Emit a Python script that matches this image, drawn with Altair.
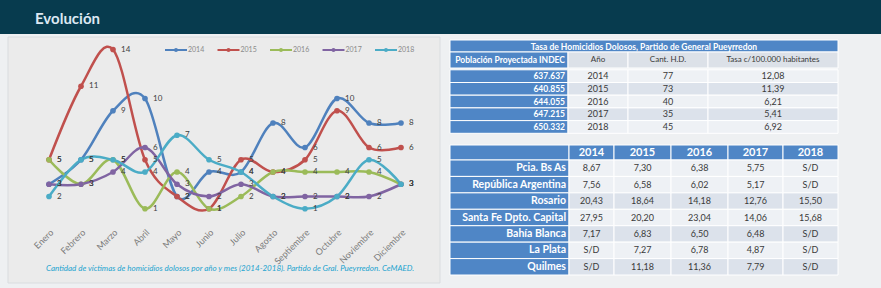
import altair as alt
import pandas as pd

# ---------------- data ----------------
months = ["Enero", "Febrero", "Marzo", "Abril", "Mayo", "Junio", "Julio",
          "Agosto", "Septiembre", "Octubre", "Noviembre", "Diciembre"]
years = ["2014", "2015", "2016", "2017", "2018"]
v2014 = [3, 5, 9, 10, 2, 4, 4, 8, 6, 10, 8, 8]
v2015 = [5, 11, 14, 5, 2, 1, 5, 4, 5, 9, 6, 6]
v2016 = [5, 3, 5, 1, 4, 1, 2, 4, 4, 4, 4, 3]
v2017 = [3, 3, 4, 6, 3, 2, 3, 2, 2, 2, 2, 3]
v2018 = [2, 5, 5, 4, 7, 5, 4, 2, 1, 2, 5, 3]
series_colors = ["#4F81BD", "#C0504D", "#9BBB59", "#8064A2", "#4BACC6"]

title_text = "Evolución"
caption_text = ("Cantidad de víctimas de homicidios dolosos por año y mes (2014-2018). "
                "Partido de Gral. Pueyrredon. CeMAED.")

t1_title = "Tasa de Homicidios Dolosos, Partido de General Pueyrredon"
t1_headers = ["Población Proyectada INDEC", "Año", "Cant. H.D.", "Tasa c/100.000 habitantes"]
t1_pob = ["637.637", "640.855", "644.055", "647.215", "650.332"]
t1_anio = ["2014", "2015", "2016", "2017", "2018"]
t1_cant = ["77", "73", "40", "35", "45"]
t1_tasa = ["12,08", "11,39", "6,21", "5,41", "6,92"]

t2_regions = ["Pcia. Bs As", "República Argentina", "Rosario", "Santa Fe Dpto. Capital",
              "Bahía Blanca", "La Plata", "Quilmes"]
t2_2014 = ["8,67", "7,56", "20,43", "27,95", "7,17", "S/D", "S/D"]
t2_2015 = ["7,30", "6,58", "18,64", "20,20", "6,83", "7,27", "11,18"]
t2_2016 = ["6,38", "6,02", "14,18", "23,04", "6,50", "6,78", "11,36"]
t2_2017 = ["5,75", "5,17", "12,76", "14,06", "6,48", "4,87", "7,79"]
t2_2018 = ["S/D", "S/D", "15,50", "15,68", "S/D", "S/D", "S/D"]

# ---------------- styles / layout ----------------
FONT = "Lato"
BLUE = "#4F86C6"
HEAD_GREY = "#DCE1E8"
ROW_LIGHT = "#EEF1F5"
ROW_DARK = "#DCE2EB"
TXT_DARK = "#3A3A3A"

W, H = 881, 288
PX = alt.Scale(domain=[0, W], range=[0, W], nice=False, zero=False)
PY = alt.Scale(domain=[0, H], range=[0, H], nice=False, zero=False)
one = pd.DataFrame({"a": [0]})

# ---------------- header / panel ----------------
header = alt.Chart(one).mark_rect(color="#073B4E").encode(
    x=alt.value(0), x2=alt.value(W), y=alt.value(0), y2=alt.value(34))
title = alt.Chart(one).mark_text(text=title_text, font=FONT, fontSize=15, fontWeight="bold",
                                 color="#DCE8F2", align="left", baseline="middle").encode(
    x=alt.value(35), y=alt.value(19))
panel = alt.Chart(one).mark_rect(color="#EBEBEB", stroke="#D9DCDF", strokeWidth=1).encode(
    x=alt.value(8), x2=alt.value(440), y=alt.value(37), y2=alt.value(283))

# ---------------- line chart ----------------
vals = [v2014, v2015, v2016, v2017, v2018]
rows = []
for yr, vs in zip(years, vals):
    for m, v in zip(months, vs):
        rows.append({"month": m, "year": yr, "value": v})
df = pd.DataFrame(rows)

xs = alt.X("month:N", sort=months,
           scale=alt.Scale(type="point", domain=months, range=[49, 401], padding=0), axis=None)
ys = alt.Y("value:Q", scale=alt.Scale(domain=[0, 16], range=[221, 25], nice=False, zero=False),
           axis=None)
col = alt.Color("year:N", scale=alt.Scale(domain=years, range=series_colors), legend=None)

lines = alt.Chart(df).mark_line(interpolate="cardinal", strokeWidth=2.5).encode(xs, ys, col)
points = alt.Chart(df).mark_circle(size=32, opacity=1).encode(xs, ys, col)
labels = alt.Chart(df).mark_text(align="left", baseline="middle", dx=8, font=FONT,
                                 fontSize=8, color="#404040").encode(xs, ys, text="value:Q")
month_labels = alt.Chart(pd.DataFrame({"month": months})).mark_text(
    angle=315, align="right", baseline="middle", font=FONT, fontSize=9, color="#7A7A7A",
    xOffset=3).encode(xs, y=alt.value(231), text="month:N")

# legend
lx = alt.X("year:N", scale=alt.Scale(type="point", domain=years, range=[176, 386], padding=0),
           axis=None)
leg_df = pd.DataFrame({"year": years})
leg_line = alt.Chart(leg_df).mark_point(shape="M-1,0L1,0", size=484, strokeWidth=2,
                                        filled=False, opacity=1).encode(lx, y=alt.value(50), color=col)
leg_dot = alt.Chart(leg_df).mark_circle(size=16, opacity=1).encode(lx, y=alt.value(50), color=col)
leg_txt = alt.Chart(leg_df).mark_text(align="left", baseline="middle", dx=12, font=FONT,
                                      fontSize=7, color="#8A8A8A").encode(lx, y=alt.value(50),
                                                                          text="year:N")

caption = alt.Chart(one).mark_text(text=caption_text, font=FONT, fontSize=8, fontStyle="italic",
                                   color="#22A3CF", align="left", baseline="middle").encode(
    x=alt.value(46), y=alt.value(269))

# ---------------- tables ----------------
cells = []
t_title, t_white_r, t_head, t_body, t2_head, t2_names, t2_body = [], [], [], [], [], [], []

def cell(x0, x1, y0, y1, fill):
    cells.append({"x0": x0, "x1": x1, "y0": y0, "y1": y1, "fill": fill})

# table 1
T1X = [450, 568, 628, 708, 838]
cell(T1X[0], T1X[-1], 40, 52, BLUE)
t_title.append({"x": (T1X[0] + T1X[-1]) / 2, "y": 46.5, "text": t1_title})
HY0, HY1 = 52, 68
for j, h in enumerate(t1_headers):
    if j == 0:
        cell(T1X[0], T1X[1], HY0, HY1, BLUE)
        t_white_r.append({"x": T1X[1] - 3, "y": (HY0 + HY1) / 2, "text": h})
    else:
        cell(T1X[j], T1X[j + 1], HY0, HY1, HEAD_GREY)
        t_head.append({"x": (T1X[j] + T1X[j + 1]) / 2, "y": (HY0 + HY1) / 2, "text": h})
RT, RH = 69.8, 12.7
for i in range(len(t1_pob)):
    y0, y1 = RT + i * RH, RT + (i + 1) * RH
    ym = (y0 + y1) / 2
    bg = ROW_DARK if i % 2 else ROW_LIGHT
    cell(T1X[0], T1X[1], y0, y1, BLUE)
    t_white_r.append({"x": T1X[1] - 3, "y": ym, "text": t1_pob[i]})
    for j, v in enumerate([t1_anio[i], t1_cant[i], t1_tasa[i]], start=1):
        cell(T1X[j], T1X[j + 1], y0, y1, bg)
        t_body.append({"x": (T1X[j] + T1X[j + 1]) / 2, "y": ym, "text": v})

# table 2
T2X = [450, 569, 614, 671, 728, 783, 838]
H2Y0, H2Y1 = 145, 160
cell(T2X[0], T2X[1], H2Y0, H2Y1, BLUE)
for j, yr in enumerate(years, start=1):
    cell(T2X[j], T2X[j + 1], H2Y0, H2Y1, BLUE)
    t2_head.append({"x": (T2X[j] + T2X[j + 1]) / 2, "y": (H2Y0 + H2Y1) / 2, "text": yr})
R2T, R2H = 160, 16.43
t2_cols = [t2_2014, t2_2015, t2_2016, t2_2017, t2_2018]
for i, reg in enumerate(t2_regions):
    y0, y1 = R2T + i * R2H, R2T + (i + 1) * R2H
    ym = (y0 + y1) / 2
    bg = ROW_DARK if i % 2 == 0 and i > 0 else ROW_LIGHT
    cell(T2X[0], T2X[1], y0, y1, BLUE)
    t2_names.append({"x": T2X[1] - 3, "y": ym, "text": reg})
    for j, c in enumerate(t2_cols, start=1):
        cell(T2X[j], T2X[j + 1], y0, y1, bg)
        t2_body.append({"x": (T2X[j] + T2X[j + 1]) / 2, "y": ym, "text": c[i]})

rects = alt.Chart(pd.DataFrame(cells)).mark_rect(stroke="#FFFFFF", strokeWidth=1).encode(
    x=alt.X("x0:Q", scale=PX, axis=None), x2="x1:Q",
    y=alt.Y("y0:Q", scale=PY, axis=None), y2="y1:Q",
    fill=alt.Fill("fill:N", scale=None))

def txt(rows_, **props):
    return alt.Chart(pd.DataFrame(rows_)).mark_text(font=FONT, baseline="middle", **props).encode(
        x=alt.X("x:Q", scale=PX, axis=None), y=alt.Y("y:Q", scale=PY, axis=None), text="text:N")

tables = [
    rects,
    txt(t_title, fontSize=8.5, fontWeight="bold", color="white", align="center"),
    txt(t_white_r, fontSize=8.5, fontWeight="bold", color="white", align="right"),
    txt(t_head, fontSize=8, color=TXT_DARK, align="center"),
    txt(t_body, fontSize=9, color=TXT_DARK, align="center"),
    txt(t2_head, fontSize=11, fontWeight="bold", color="white", align="center"),
    txt(t2_names, fontSize=10.5, fontWeight="bold", color="white", align="right"),
    txt(t2_body, fontSize=9, color=TXT_DARK, align="center"),
]

chart = alt.layer(
    header, title, panel,
    lines, points, labels, month_labels,
    leg_line, leg_dot, leg_txt, caption,
    *tables
).resolve_scale(
    x="independent", y="independent", color="independent", fill="independent"
).properties(
    width=W, height=H, padding=0, background="#EEF0F2",
    autosize=alt.AutoSizeParams(type="none")
).configure_view(stroke=None)

chart.save("out.html", embed_options={"renderer": "svg", "actions": False})
